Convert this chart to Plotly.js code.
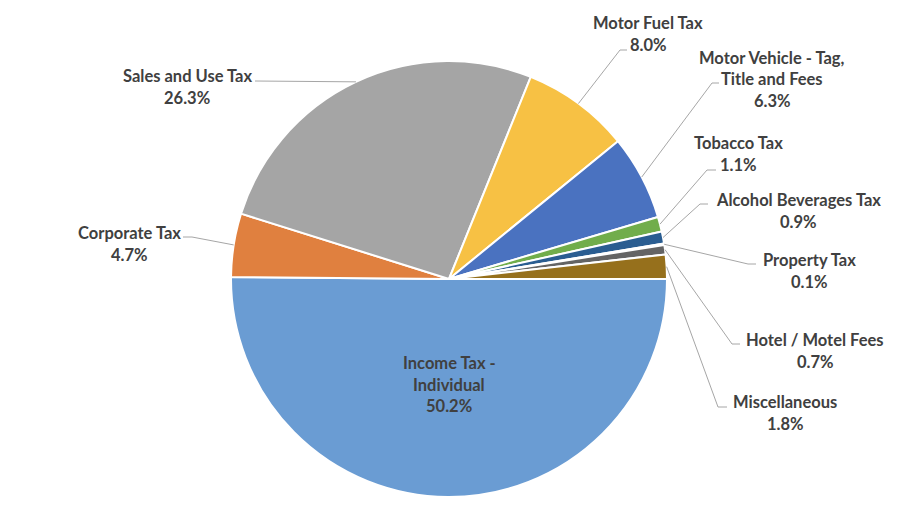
<!DOCTYPE html>
<html>
<head>
<meta charset="utf-8">
<script src="https://cdn.plot.ly/plotly-3.0.1.min.js"></script>
<style>html,body{margin:0;padding:0;background:#fff;}#chart{width:900px;height:506px;}</style>
</head>
<body>
<div id="chart"></div>
<script>
// ---- data ----
const categories = ['Income Tax - Individual', 'Corporate Tax', 'Sales and Use Tax', 'Motor Fuel Tax',
  'Motor Vehicle - Tag, Title and Fees', 'Tobacco Tax', 'Alcohol Beverages Tax', 'Property Tax',
  'Hotel / Motel Fees', 'Miscellaneous'];
const shares = [50.2, 4.7, 26.3, 8.0, 6.3, 1.1, 0.9, 0.1, 0.7, 1.8];
const labelLines = [
  ['Income Tax -', 'Individual'],
  ['Corporate Tax'],
  ['Sales and Use Tax'],
  ['Motor Fuel Tax'],
  ['Motor Vehicle - Tag,', 'Title and Fees'],
  ['Tobacco Tax'],
  ['Alcohol Beverages Tax'],
  ['Property Tax'],
  ['Hotel / Motel Fees'],
  ['Miscellaneous']
];
const colors = ['#6A9CD3', '#E0803F', '#A5A5A5', '#F7C144', '#4A72C0', '#71AD4B', '#2A5D91', '#9E480E', '#646464', '#96701C'];

// ---- layout geometry (pixels) ----
const W = 900, H = 506;
const CX = 449, CY = 279, R = 218;
// label block centre x, first line y, and leader-line waypoints (label side)
const labelGeo = [
  {x: 449, y: 363, pts: null},
  {x: 129, y: 233, pts: [[192, 237], [183, 237]]},
  {x: 187, y: 76,  pts: [[255, 81]]},
  {x: 648, y: 23,  pts: [[620, 50], [627, 50]]},
  {x: 772, y: 58,  pts: [[712, 83], [719, 83]]},
  {x: 738, y: 143, pts: [[707, 170], [716, 170]]},
  {x: 798, y: 200, pts: [[700, 204], [708, 204]]},
  {x: 809, y: 260, pts: [[748, 264], [756, 264]]},
  {x: 815, y: 340, pts: [[732, 344], [740, 344]]},
  {x: 785, y: 402, pts: [[718, 407], [727, 407]]}
];
const LINE_H = 21.5;

const px = x => x / W;
const py = y => 1 - y / H;

const total = shares.reduce((a, b) => a + b, 0);
const annotations = [];
const shapes = [];
let cum = 0;
const font = {family: 'Lato, "Open Sans", sans-serif', size: 16.5, color: '#404040', weight: 'bold'};
shares.forEach((v, i) => {
  const mid = (cum + v / 2) / total * 360; // degrees clockwise from 3 o'clock
  cum += v;
  const a = mid * Math.PI / 180;
  const tip = [CX + R * Math.cos(a), CY + R * Math.sin(a)];
  const g = labelGeo[i];
  const lines = labelLines[i].concat([v.toFixed(1) + '%']);
  lines.forEach((t, k) => {
    annotations.push({
      xref: 'paper', yref: 'paper', x: px(g.x), y: py(g.y + k * LINE_H),
      xanchor: 'center', yanchor: 'middle', showarrow: false, text: t, font: font
    });
  });
  if (g.pts) {
    const all = [tip].concat(g.pts);
    const path = all.map((p, k) => (k ? 'L' : 'M') + px(p[0]) + ',' + py(p[1])).join(' ');
    shapes.push({type: 'path', xref: 'paper', yref: 'paper', path: path,
      line: {color: '#A6A6A6', width: 1}});
  }
});

const trace = {
  type: 'pie',
  labels: categories,
  values: shares,
  sort: false,
  direction: 'clockwise',
  rotation: 90,
  textinfo: 'none',
  hoverinfo: 'label+percent',
  marker: {colors: colors, line: {color: '#FFFFFF', width: 2}},
  domain: {x: [(CX - R) / W, (CX + R) / W], y: [(H - CY - R) / H, (H - CY + R) / H]},
  showlegend: false
};

const layout = {
  width: W, height: H,
  margin: {l: 0, r: 0, t: 0, b: 0},
  paper_bgcolor: '#FFFFFF',
  showlegend: false,
  annotations: annotations,
  shapes: shapes
};

Plotly.newPlot('chart', [trace], layout, {displayModeBar: false, staticPlot: true});
</script>
</body>
</html>
